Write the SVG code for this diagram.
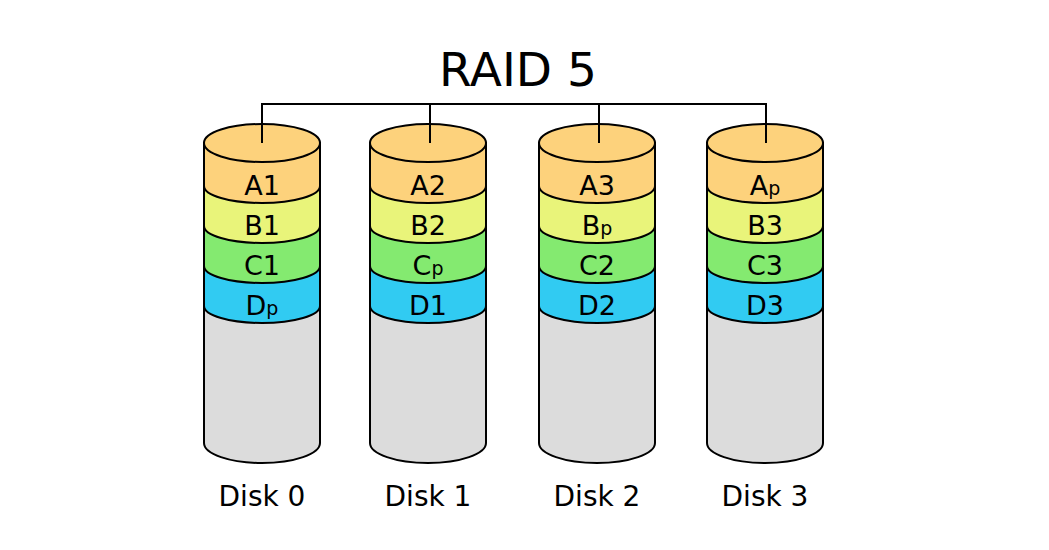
<svg xmlns="http://www.w3.org/2000/svg" width="1049" height="550" viewBox="0 0 1049 550">
<style>
.s{stroke:#000;stroke-width:2;stroke-linejoin:round}
.g{fill:#dcdcdc}.d{fill:#31cbf2}.c{fill:#84ea70}.b{fill:#e9f47a}.a{fill:#fdd27c}
.t{font-family:"DejaVu Sans",sans-serif;font-size:27px;fill:#000;text-anchor:middle}
.sub{font-size:19px}
.lbl{font-family:"DejaVu Sans",sans-serif;font-size:28px;fill:#000;text-anchor:middle}
.title{font-family:"DejaVu Sans",sans-serif;font-size:47px;fill:#000;text-anchor:middle}
.cn{fill:none;stroke:#000;stroke-width:2}
</style>
<defs>
<g id="cyl">
<path class="s g" d="M-58,143 L-58,443 A58,20 0 0 0 58,443 L58,143 Z"/>
<path class="s d" d="M-58,143 L-58,306 A58,17 0 0 0 58,306 L58,143 Z"/>
<path class="s c" d="M-58,143 L-58,266 A58,17 0 0 0 58,266 L58,143 Z"/>
<path class="s b" d="M-58,143 L-58,226 A58,17 0 0 0 58,226 L58,143 Z"/>
<path class="s a" d="M-58,143 L-58,186 A58,17 0 0 0 58,186 L58,143 Z"/>
<ellipse class="s a" cx="0" cy="143" rx="58" ry="19"/>
</g>
</defs>
<rect width="1049" height="550" fill="#fff"/>
<text class="title" x="518" y="86">RAID 5</text>
<g id="disk0">
<use href="#cyl" x="262"/>
<text class="t" x="262" y="195">A1</text>
<text class="t" x="262" y="235">B1</text>
<text class="t" x="262" y="275">C1</text>
<text class="t" x="262" y="315">D<tspan class="sub">p</tspan></text>
<text class="lbl" x="262" y="506">Disk 0</text>
</g>
<g id="disk1">
<use href="#cyl" x="428"/>
<text class="t" x="428" y="195">A2</text>
<text class="t" x="428" y="235">B2</text>
<text class="t" x="428" y="275">C<tspan class="sub">p</tspan></text>
<text class="t" x="428" y="315">D1</text>
<text class="lbl" x="428" y="506">Disk 1</text>
</g>
<g id="disk2">
<use href="#cyl" x="597"/>
<text class="t" x="597" y="195">A3</text>
<text class="t" x="597" y="235">B<tspan class="sub">p</tspan></text>
<text class="t" x="597" y="275">C2</text>
<text class="t" x="597" y="315">D2</text>
<text class="lbl" x="597" y="506">Disk 2</text>
</g>
<g id="disk3">
<use href="#cyl" x="765"/>
<text class="t" x="765" y="195">A<tspan class="sub">p</tspan></text>
<text class="t" x="765" y="235">B3</text>
<text class="t" x="765" y="275">C3</text>
<text class="t" x="765" y="315">D3</text>
<text class="lbl" x="765" y="506">Disk 3</text>
</g>
<g id="connectors">
<path class="cn" d="M262,143 V104 H766 V143 M430,104 V143 M599,104 V143"/>
</g>
</svg>
